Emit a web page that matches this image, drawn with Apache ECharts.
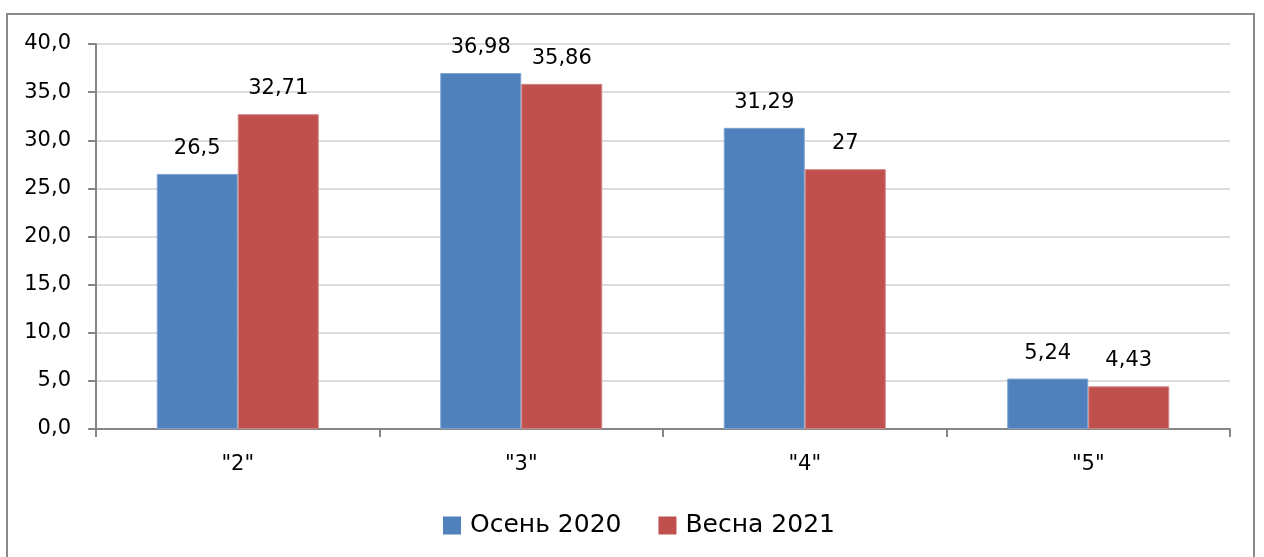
<!DOCTYPE html>
<html><head><meta charset="utf-8">
<script src="https://cdn.jsdelivr.net/npm/echarts@6/dist/echarts.min.js"></script>
<style>html,body{margin:0;padding:0;background:#fff}#c{width:1264px;height:557px}</style>
</head><body><div id="c"></div>
<script>
const categories = ['"2"', '"3"', '"4"', '"5"'];
const autumn2020 = [26.5, 36.98, 31.29, 5.24];
const spring2021 = [32.71, 35.86, 27, 4.43];
const seriesNames = ['Осень 2020', 'Весна 2021'];
const yTicks = { min: 0, max: 40, interval: 5 };

const FONT = 'DejaVu Sans';
const comma = v => String(v).replace('.', ',');
const chart = echarts.init(document.getElementById('c'), null, { renderer: 'canvas' });
const labelCfg = {
  show: true, position: 'top', distance: 15,
  color: '#000', fontFamily: FONT, fontSize: 21,
  formatter: p => comma(p.value)
};
chart.setOption({
  animation: false,
  graphic: [{
    type: 'rect', shape: { x: 7, y: 14, width: 1247, height: 600 },
    style: { fill: 'none', stroke: '#8a8a8a', lineWidth: 2 }, silent: true
  }],
  grid: { left: 96, right: 34, top: 44, bottom: 128, containLabel: false },
  legend: {
    top: 513, left: 443, padding: 0, itemWidth: 18, itemHeight: 18, itemGap: 37,
    icon: 'rect',
    itemStyle: { borderWidth: 0 },
    textStyle: { fontFamily: FONT, fontSize: 25, color: '#000', padding: [0, 0, 0, 4] },
    data: seriesNames
  },
  xAxis: {
    type: 'category', data: categories,
    axisLine: { lineStyle: { color: '#868686', width: 2 } },
    axisTick: { show: true, length: 8, alignWithLabel: false, lineStyle: { color: '#868686', width: 2 } },
    axisLabel: { color: '#000', fontFamily: FONT, fontSize: 21, margin: 25 }
  },
  yAxis: {
    type: 'value', min: yTicks.min, max: yTicks.max, interval: yTicks.interval,
    axisLine: { show: true, lineStyle: { color: '#868686', width: 2 } },
    axisTick: { show: true, length: 8, lineStyle: { color: '#868686', width: 2 } },
    splitLine: { lineStyle: { color: '#dcdcdc', width: 2 } },
    axisLabel: { color: '#000', fontFamily: FONT, fontSize: 21, margin: 25, formatter: v => v.toFixed(1).replace('.', ',') }
  },
  series: [
    { name: seriesNames[0], type: 'bar', data: autumn2020, barWidth: 81, barGap: '0%',
      itemStyle: { color: '#4F81BD', borderColor: '#7fa3d0', borderWidth: 1 }, label: labelCfg },
    { name: seriesNames[1], type: 'bar', data: spring2021, barWidth: 81, barGap: '0%',
      itemStyle: { color: '#C0504D', borderColor: '#d08583', borderWidth: 1 }, label: labelCfg }
  ]
});
</script></body></html>
